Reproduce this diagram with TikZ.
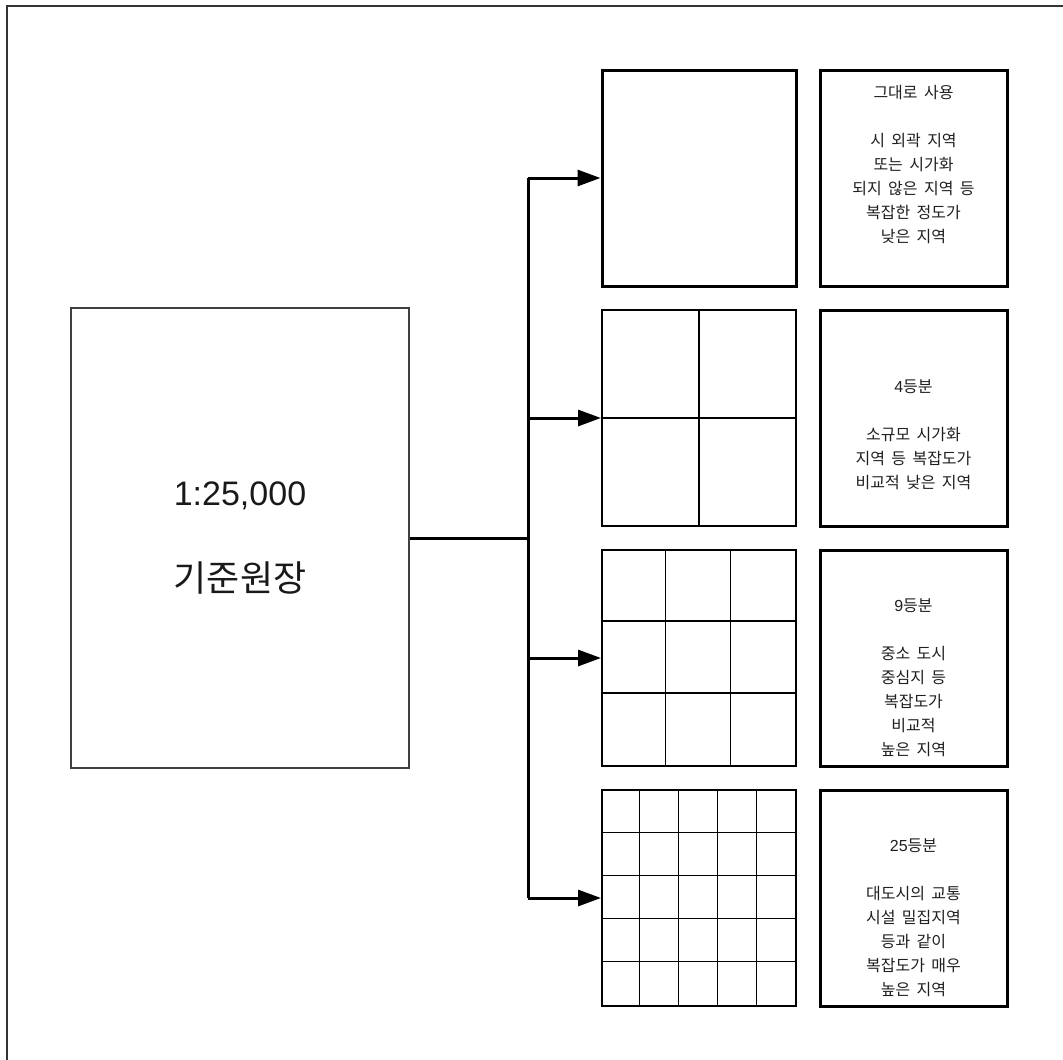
\documentclass[tikz,border=0pt]{standalone}
\usepackage{fontspec}
\setmainfont{Liberation Sans}
\newfontfamily\kr{Noto Sans CJK KR}
\newfontfamily\lat{Liberation Sans}
\newcommand\descfont{\kr\fontsize{16}{24}\selectfont\spaceskip=6.4pt plus 1pt\relax}
\usetikzlibrary{arrows.meta}
\begin{document}
\begin{tikzpicture}[x=1pt,y=-1pt,
  frameline/.style={draw=black!80, line width=1.3pt},
  mainbox/.style={draw=black!75, line width=1.4pt, minimum width=338pt, minimum height=460pt, inner sep=0pt},
  plainbox/.style={draw, line width=3pt, minimum width=194pt, minimum height=216pt, inner sep=0pt},
  gridbox/.style={draw, line width=2pt, minimum width=194pt, minimum height=216pt, inner sep=0pt},
  gridline/.style={line width=1.2pt},
  descbox/.style={draw, line width=3pt, minimum width=187pt, minimum height=216pt, inner sep=0pt},
  desc/.style={align=center, font=\descfont, text=black!88, inner sep=0pt, anchor=north},
  flow/.style={line width=3pt},
  arrowline/.style={flow, -{Triangle[length=23pt,width=16pt]}},
  bigtext/.style={inner sep=0pt, text=black!90}
]
\useasboundingbox (0,0) rectangle (1063,1060);
% outer frame (cut off at right and bottom)
\path[frameline] (1070,6) -- (7,6) -- (7,1070);

% main box
\node[mainbox] (main) at (240,538) {};
\node[bigtext, font=\lat\fontsize{34}{38}\selectfont] (scale) at (240,496) {1:25,000};
\node[bigtext, font=\kr\fontsize{36}{40}\selectfont] (title) at (240,578) {기준원장};

% grid boxes
\node[plainbox] (g1) at (699,178) {};
\node[gridbox] (g2) at (699,418) {};
\node[gridbox] (g3) at (699,658) {};
\node[gridbox] (g4) at (699,898) {};

% 4 parts
\draw[gridline] (g2.north) -- (g2.south);
\draw[gridline] (g2.west) -- (g2.east);
% 9 parts
\foreach \i in {1,2} {
  \draw[gridline] ([xshift=\i*194/3]g3.north west) -- ([xshift=\i*194/3]g3.south west);
  \draw[gridline] ([yshift=-\i*216/3]g3.north west) -- ([yshift=-\i*216/3]g3.north east);
}
% 25 parts
\foreach \i in {1,2,3,4} {
  \draw[gridline] ([xshift=\i*194/5]g4.north west) -- ([xshift=\i*194/5]g4.south west);
  \draw[gridline] ([yshift=-\i*216/5]g4.north west) -- ([yshift=-\i*216/5]g4.north east);
}

% description boxes
\node[descbox] (d1) at (913.5,178) {};
\node[descbox] (d2) at (913.5,418) {};
\node[descbox] (d3) at (913.5,658) {};
\node[descbox] (d4) at (913.5,898) {};

\node[desc] (t1) at (913.5,85) {그대로 사용\\[24pt]시 외곽 지역\\또는 시가화\\되지 않은 지역 등\\복잡한 정도가\\낮은 지역};
\node[desc] (t2) at (913.5,380) {{\lat 4}등분\\[24pt]소규모 시가화\\지역 등 복잡도가\\비교적 낮은 지역};
\node[desc] (t3) at (913.5,599) {{\lat 9}등분\\[24pt]중소 도시\\중심지 등\\복잡도가\\비교적\\높은 지역};
\node[desc] (t4) at (913.5,839) {{\lat 25}등분\\[24pt]대도시의 교통\\시설 밀집지역\\등과 같이\\복잡도가 매우\\높은 지역};

% connectors
\coordinate (j0) at (528,538);
\coordinate (j1) at (528,178);
\coordinate (j2) at (528,418);
\coordinate (j3) at (528,658);
\coordinate (j4) at (528,898);
\draw[flow] (main.east) -- (j0);
\draw[flow] (j1) -- (j4);
\draw[arrowline] (j1) -- (g1.west);
\draw[arrowline] (j2) -- (g2.west);
\draw[arrowline] (j3) -- (g3.west);
\draw[arrowline] (j4) -- (g4.west);
\end{tikzpicture}
\end{document}
